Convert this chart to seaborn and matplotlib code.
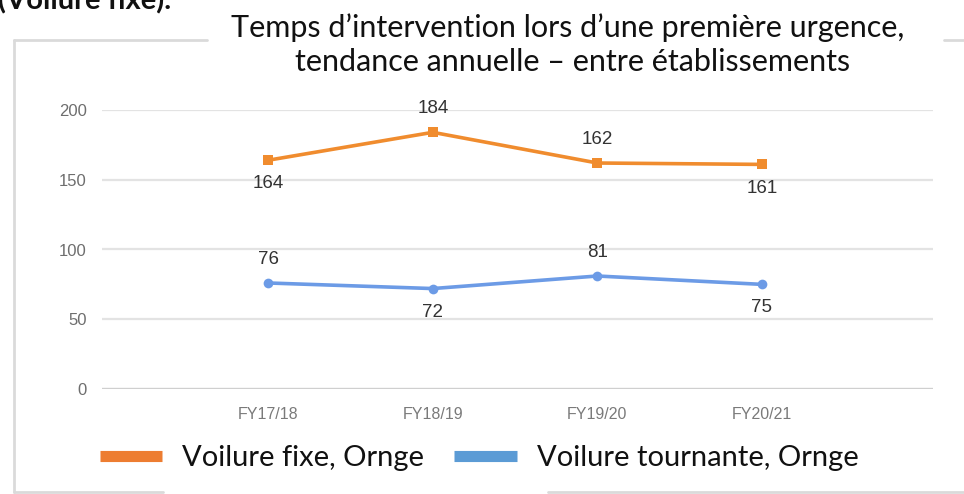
import matplotlib
matplotlib.use("Agg")
import matplotlib.pyplot as plt
import seaborn as sns
import pandas as pd
from matplotlib.lines import Line2D

categories = ["FY17/18", "FY18/19", "FY19/20", "FY20/21"]
fixed_wing = [164, 184, 162, 161]
rotary_wing = [76, 72, 81, 75]
series_names = ["Voilure fixe, Ornge", "Voilure tournante, Ornge"]
y_ticks = [0, 50, 100, 150, 200]
title_lines = "Temps d\u2019intervention lors d\u2019une première urgence,\ntendance annuelle \u2013 entre établissements"
clipped_heading = "(Voilure fixe)."

# label placement: +1 above, -1 below
fixed_pos = [-1, 1, 1, -1]
rotary_pos = [1, -1, 1, -1]

line_colors = ["#F08C2E", "#6C9BE6"]
legend_colors = ["#ED7D31", "#5B9BD5"]

df = pd.DataFrame({
    "year": categories * 2,
    "value": fixed_wing + rotary_wing,
    "series": [series_names[0]] * 4 + [series_names[1]] * 4,
})

sns.set_theme(style="white")
plt.rcParams["font.family"] = ["Liberation Sans", "DejaVu Sans"]

W, H = 964, 494
fig = plt.figure(figsize=(W / 100, H / 100), dpi=100)

def fx(px):
    return px / W

def fy(py):
    return 1 - py / H

# card border
border_col = "#DADADA"
for (x0, y0, x1, y1) in [(14, 40, 14, 492), (14, 40, 207, 40), (944, 40, 964, 40),
                         (14, 492, 163, 492), (548, 492, 964, 492)]:
    fig.add_artist(Line2D([fx(x0), fx(x1)], [fy(y0), fy(y1)], color=border_col, lw=2))

ax = fig.add_axes([fx(102), fy(389), fx(933) - fx(102), fy(110) - fy(389)])

sns.lineplot(data=df, x="year", y="value", hue="series", style="series",
             markers={series_names[0]: "s", series_names[1]: "o"}, dashes=False,
             palette=dict(zip(series_names, line_colors)), linewidth=2.6,
             markersize=7, markeredgewidth=0, ax=ax, legend=False, sort=False)

ax.set_xlim(-1.01, 4.04)
ax.set_ylim(0, 200)
ax.set_yticks(y_ticks)
ax.set_xlabel("")
ax.set_ylabel("")
for s in ax.spines.values():
    s.set_visible(False)
ax.grid(axis="y", color="#E3E3E3", lw=1.6)
ax.grid(axis="x", visible=False)
ax.axhline(0, color="#CFCFCF", lw=1.6, zorder=1)
ax.tick_params(axis="y", length=0, pad=11, labelsize=12, labelcolor="#6E6E6E")
ax.tick_params(axis="x", length=0, pad=13, labelsize=11.5, labelcolor="#7A7A7A")

for vals, pos in [(fixed_wing, fixed_pos), (rotary_wing, rotary_pos)]:
    for i, (v, p) in enumerate(zip(vals, pos)):
        ax.annotate(str(v), (i, v), xytext=(0, 17 * p), textcoords="offset points",
                    ha="center", va="center", fontsize=13.5, color="#333333")

# title overlay
fig.text(fx(568), fy(28), title_lines.split("\n")[0], ha="center", va="center",
         fontsize=22, family=["Lato", "DejaVu Sans"], color="#111111")
fig.text(fx(573), fy(62), title_lines.split("\n")[1], ha="center", va="center",
         fontsize=22, family=["Lato", "DejaVu Sans"], color="#111111")

# clipped heading at very top (cut off in the reference too)
fig.text(fx(-2), fy(9), clipped_heading, ha="left", va="baseline",
         fontsize=21, fontweight="bold", family=["Lato", "DejaVu Sans"], color="#111111")

# legend
handles = [Line2D([], [], color=c, lw=8, solid_capstyle="butt") for c in legend_colors]
leg = fig.legend(handles, series_names, loc="center", bbox_to_anchor=(fx(479), fy(458)),
                 ncol=2, frameon=False, handlelength=2.15, handletextpad=0.68,
                 columnspacing=1.03, prop={"family": ["Lato", "DejaVu Sans"], "size": 21})
for t in leg.get_texts():
    t.set_color("#111111")

fig.savefig("out.png", dpi=100, facecolor="white")
